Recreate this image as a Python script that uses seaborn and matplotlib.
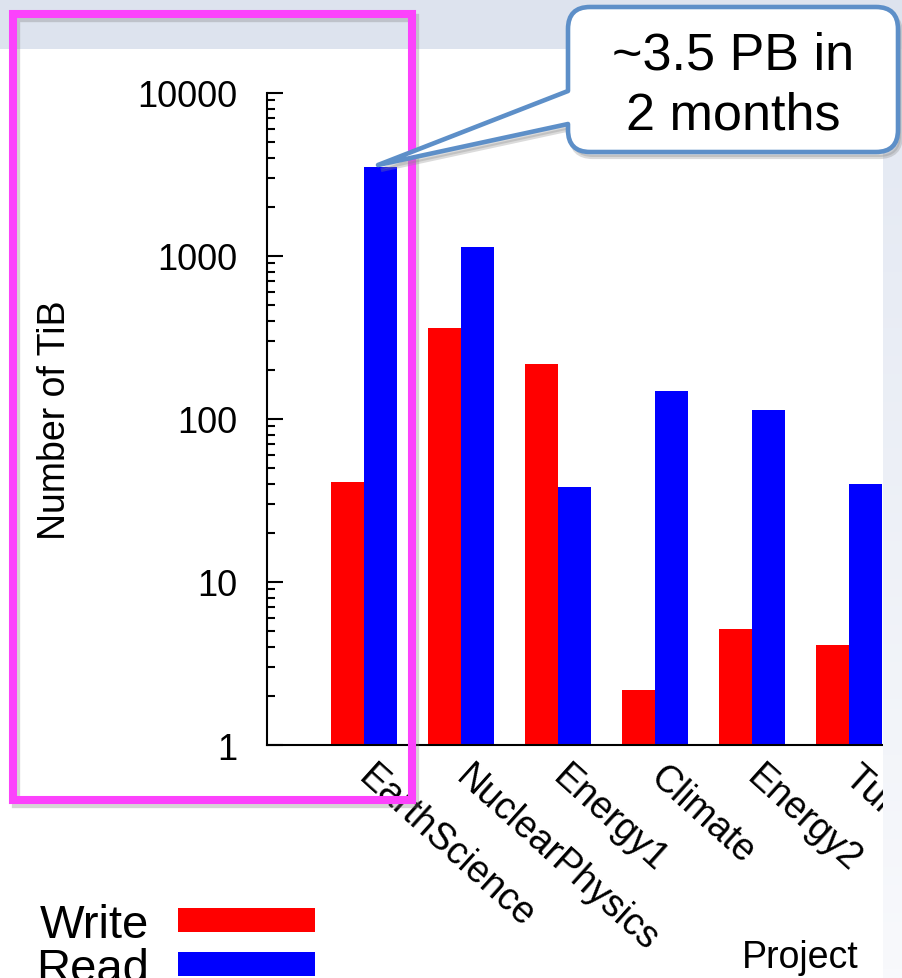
import matplotlib
matplotlib.use("Agg")
import matplotlib.pyplot as plt
import matplotlib.transforms as mtransforms
from matplotlib.patches import Rectangle, PathPatch, Patch
from matplotlib.path import Path
from matplotlib.ticker import LogLocator, NullFormatter
import numpy as np
import pandas as pd
import seaborn as sns

# data (TiB, log axis)
projects = ["EarthScience", "NuclearPhysics", "Energy1", "Climate", "Energy2", "Turbulence"]
write_tib = [41.1, 362, 217, 2.18, 5.15, 4.11]
read_tib = [3500, 1135, 38.3, 148.6, 113.5, 39.9]
series = ["Write", "Read"]
colors = {"Write": "#ff0000", "Read": "#0000ff"}
yticks = [1, 10, 100, 1000, 10000]

df = pd.DataFrame({
    "Project": projects * 2,
    "Type": ["Write"] * len(projects) + ["Read"] * len(projects),
    "TiB": write_tib + read_tib,
})

sns.set_theme(style="white")
plt.rcParams["font.family"] = ["Liberation Sans", "DejaVu Sans"]
plt.rcParams["text.color"] = "black"
plt.rcParams["axes.labelcolor"] = "black"
plt.rcParams["xtick.color"] = "black"
plt.rcParams["ytick.color"] = "black"

W, H = 902, 979
fig = plt.figure(figsize=(W / 100, H / 100), dpi=100)
fig.patch.set_facecolor("white")


def fx(px):
    return px / W


def fy(py):
    return 1 - py / H


ax = fig.add_axes([fx(267), fy(746), fx(883) - fx(267), fy(94) - fy(746)])
sns.barplot(data=df, x="Project", y="TiB", hue="Type", palette=colors,
            width=0.68, saturation=1, linewidth=0, legend=False, ax=ax)
ax.set_yscale("log")
ax.set_ylim(1, 10000)
ax.set_xlim(-1.0, 5.35)
ax.set_facecolor("white")

ax.set_yticks(yticks)
ax.set_yticklabels([str(t) for t in yticks])
ax.yaxis.set_minor_locator(LogLocator(base=10, subs=np.arange(2, 10)))
ax.yaxis.set_minor_formatter(NullFormatter())
ax.tick_params(axis="y", which="major", direction="in", length=11.5, width=1.5,
               labelsize=26, pad=21, left=True, colors="black")
ax.tick_params(axis="y", which="minor", direction="in", length=6, width=1.5, left=True)
ax.tick_params(axis="x", length=0, labelsize=27, pad=0, colors="black")

for side in ["top", "right"]:
    ax.spines[side].set_visible(False)
for side in ["left", "bottom"]:
    ax.spines[side].set_color("black")
    ax.spines[side].set_linewidth(1.5)

shift = mtransforms.ScaledTranslation(0.12, -0.13, fig.dpi_scale_trans)
for lbl in ax.get_xticklabels():
    lbl.set_rotation(-42)
    lbl.set_ha("left")
    lbl.set_va("top")
    lbl.set_rotation_mode("anchor")
    lbl.set_transform(lbl.get_transform() + shift)

ax.set_ylabel("Number of TiB", fontsize=27, color="black")
ax.yaxis.set_label_coords(-0.315, 0.5)
ax.set_xlabel("Project", fontsize=27, color="black")
ax.xaxis.set_label_coords(0.865, -0.2975)

handles = [Patch(facecolor=colors[s], edgecolor="none") for s in series]
ax.legend(handles, series, loc="upper left", bbox_to_anchor=(fx(36), fy(904)),
          bbox_transform=fig.transFigure, frameon=False, markerfirst=False,
          fontsize=34, handlelength=2.9, handleheight=0.38, handletextpad=0.62,
          labelspacing=0.0, borderpad=0, borderaxespad=0)

# slide background around the chart
fig.add_artist(Rectangle((0, fy(50)), 1, 1 - fy(50), transform=fig.transFigure,
                         facecolor="#dde3ee", edgecolor="none", zorder=2))
grad = fig.add_axes([fx(883), 0, 1 - fx(883), fy(50)], zorder=2)
grad.imshow(np.linspace(0, 1, 100).reshape(-1, 1), cmap=matplotlib.colors.LinearSegmentedColormap.from_list(
    "strip", ["#e3e8f2", "#f8f9fc"]), aspect="auto", extent=(0, 1, 0, 1))
grad.set_axis_off()

# highlight box
frame = dict(transform=fig.transFigure, fill=False)
fig.add_artist(Rectangle((fx(16), fy(805)), fx(412) - fx(13), fy(15) - fy(801),
                         edgecolor="#777777", alpha=0.3, linewidth=6, zorder=5, **frame))
fig.add_artist(Rectangle((fx(13), fy(801)), fx(412) - fx(13), fy(15) - fy(801),
                         edgecolor="#fc42fc", linewidth=5.8, zorder=6, **frame))

# callout bubble
r = 22
L, R, T, B = 568, 898, 8, 153
pts = [(L + r, T), (R - r, T), (R, T), (R, T + r), (R, B - r), (R, B), (R - r, B),
       (L + r, B), (L, B), (L, B - r), (L, 125), (378, 166), (L, 92), (L, T + r),
       (L, T), (L + r, T), (L + r, T)]
codes = [Path.MOVETO, Path.LINETO, Path.CURVE3, Path.CURVE3, Path.LINETO, Path.CURVE3,
         Path.CURVE3, Path.LINETO, Path.CURVE3, Path.CURVE3, Path.LINETO, Path.LINETO,
         Path.LINETO, Path.LINETO, Path.CURVE3, Path.CURVE3, Path.CLOSEPOLY]
shadow = Path([(fx(x + 3), fy(y + 5)) for x, y in pts], codes)
bubble = Path([(fx(x), fy(y)) for x, y in pts], codes)
fig.add_artist(PathPatch(shadow, transform=fig.transFigure, facecolor="#888888",
                         edgecolor="#888888", alpha=0.3, linewidth=3, zorder=7))
fig.add_artist(PathPatch(bubble, transform=fig.transFigure, facecolor="white",
                         edgecolor="#5d8fc8", linewidth=3.3, joinstyle="round", zorder=8))
fig.text(fx(733), fy(70), "~3.5 PB in", ha="center", va="baseline", fontsize=37.5, zorder=9)
fig.text(fx(733), fy(130), "2 months", ha="center", va="baseline", fontsize=37.5, zorder=9)

fig.savefig("out.png", dpi=100)
